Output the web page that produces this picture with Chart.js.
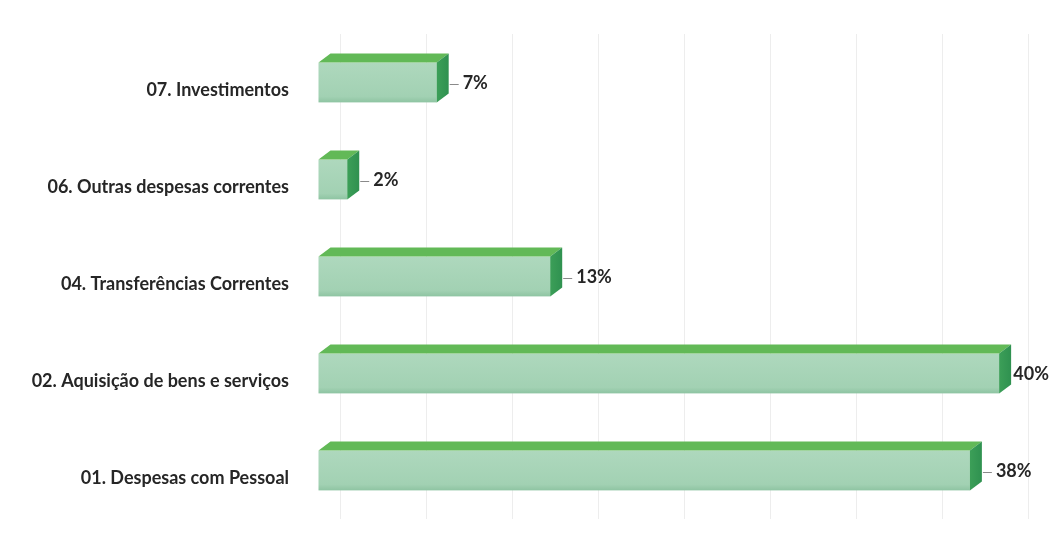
<!DOCTYPE html>
<html>
<head>
<meta charset="utf-8">
<script src="https://cdn.jsdelivr.net/npm/chart.js@4/dist/chart.umd.min.js"></script>
<style>
  html, body { margin: 0; padding: 0; background: #fff; }
  #wrap { width: 1051px; height: 544px; }
</style>
</head>
<body>
<div id="wrap"><canvas id="myChart" width="1051" height="544"></canvas></div>
<script>
// categories, top to bottom as in the picture
var categorias = [
	'07. Investimentos',
	'06. Outras despesas correntes',
	'04. Transferências Correntes',
	'02. Aquisição de bens e serviços',
	'01. Despesas com Pessoal'
];
// share of spending (%)
var percentagens = [6.9, 1.7, 13.5, 39.6, 37.9];
// text shown next to each bar
var rotulos = ['7%', '2%', '13%', '40%', '38%'];

var FONTE = "'Lato', 'Open Sans', sans-serif";

// draws the bars as 3D boxes (front face shifted left of the back wall)
var barras3d = {
	id: 'barras3d',
	afterDatasetsDraw: function (chart) {
		var ctx = chart.ctx;
		var meta = chart.getDatasetMeta(0);
		var recuo = 22;   // front face offset from the back wall
		var dx = 12, dy = 9;
		ctx.save();
		meta.data.forEach(function (bar, i) {
			var p = bar.getProps(['x', 'y', 'base', 'height'], true);
			var l = p.base - recuo;
			var r = p.x - recuo;
			var t = p.y - p.height / 2;
			var b = p.y + p.height / 2;

			// front face
			var g = ctx.createLinearGradient(0, t, 0, b);
			g.addColorStop(0, '#aed8bd');
			g.addColorStop(0.85, '#a2d1b3');
			g.addColorStop(1, '#8ec4a2');
			ctx.fillStyle = g;
			ctx.fillRect(l, t, r - l, b - t);

			// top
			ctx.fillStyle = '#62b957';
			ctx.beginPath();
			ctx.moveTo(l, t);
			ctx.lineTo(l + dx, t - dy);
			ctx.lineTo(r + dx, t - dy);
			ctx.lineTo(r, t);
			ctx.closePath();
			ctx.fill();

			// right side
			var gs = ctx.createLinearGradient(r, 0, r + dx, 0);
			gs.addColorStop(0, '#3c9f58');
			gs.addColorStop(1, '#2f9150');
			ctx.fillStyle = gs;
			ctx.beginPath();
			ctx.moveTo(r, t);
			ctx.lineTo(r + dx, t - dy);
			ctx.lineTo(r + dx, b - dy);
			ctx.lineTo(r, b);
			ctx.closePath();
			ctx.fill();

			// value label with short leader line
			ctx.font = 'bold 18px ' + FONTE;
			ctx.textBaseline = 'middle';
			ctx.textAlign = 'left';
			var txt = rotulos[i];
			var w = ctx.measureText(txt).width;
			var tx = r + 26;
			var ty = p.y + 1;
			if (tx + w > chart.width - 2) {
				tx = chart.width - 2 - w;
			} else {
				ctx.strokeStyle = '#8a8a8a';
				ctx.lineWidth = 1;
				ctx.beginPath();
				ctx.moveTo(r + dx + 1, Math.round(ty) + 0.5);
				ctx.lineTo(tx - 4, Math.round(ty) + 0.5);
				ctx.stroke();
			}
			ctx.fillStyle = '#262626';
			ctx.fillText(txt, tx, ty);
		});
		ctx.restore();
	}
};

const ctx = document.getElementById('myChart');
const myChart = new Chart(ctx, {
	type: 'bar',
	data: {
		labels: categorias,
		datasets: [{
			data: percentagens,
			backgroundColor: 'rgba(0,0,0,0)',
			borderWidth: 0,
			barPercentage: 0.41,
			categoryPercentage: 1
		}]
	},
	options: {
		indexAxis: 'y',
		responsive: false,
		animation: false,
		layout: {
			padding: { left: 0, right: 23, top: 34, bottom: 25 }
		},
		plugins: {
			legend: { display: false },
			tooltip: { enabled: false }
		},
		scales: {
			x: {
				min: 0,
				max: 40,
				ticks: { display: false, stepSize: 5 },
				grid: { color: 'rgba(0,0,0,0.07)', drawTicks: false },
				border: { display: false },
				afterFit: function (scale) { scale.height = 0; }
			},
			y: {
				ticks: {
					color: '#262626',
					font: { family: FONTE, size: 18, weight: 'bold' },
					padding: 51,
					labelOffset: 8
				},
				grid: { display: false, drawTicks: false },
				border: { display: false },
				afterFit: function (scale) {
					scale.width = 340;
					scale.paddingTop = 0;
					scale.paddingBottom = 0;
				}
			}
		}
	},
	plugins: [barras3d]
});
</script>
</body>
</html>
